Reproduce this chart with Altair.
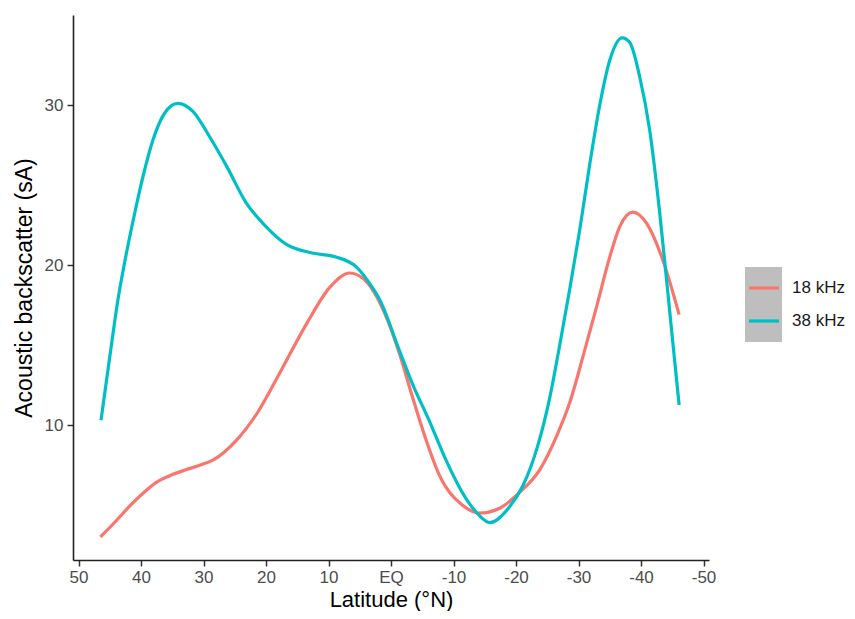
import altair as alt
import pandas as pd

# 18 kHz series (latitude, backscatter)
lat_18 = [46.5, 44.0, 41.9, 39.5, 37.6, 35.0, 32.8, 30.5, 28.5, 24.6, 21.4,
          17.8, 13.4, 9.8, 6.6, 3.8, 0.6, -1.4, -3.4, -5.5, -7.7, -11.4, -14.2, -17.4,
          -20.6, -23.8, -26.6, -28.6, -30.8, -32.9, -35.0, -36.6, -38.7, -40.9,
          -43.5, -46.1]
val_18 = [3.0, 4.0, 4.9, 5.8, 6.4, 6.9, 7.2, 7.5, 7.8, 9.1, 10.75,
          13.25, 16.4, 18.6, 19.5, 18.9, 16.6, 14.4, 11.8, 9.2, 6.9, 5.0, 4.5, 4.8,
          5.8, 7.2, 9.4, 11.4, 14.4, 17.4, 20.5, 22.4, 23.3, 22.6,
          20.3, 16.9]

# 38 kHz series
lat_38 = [46.4, 45.0, 43.7, 42.2, 41.0, 39.7, 38.1, 36.2, 34.1, 31.7, 29.0, 26.2,
          23.2, 20.0, 16.8, 12.6, 8.8, 5.6, 3.0, 1.9, -1.3, -3.4, -6.2, -8.8,
          -12.0, -14.0, -15.8, -19.0, -21.1, -23.4, -25.4, -27.0, -28.6, -30.2,
          -31.8, -33.4, -35.0, -37.0, -38.2, -39.8, -41.4, -43.0, -44.9, -46.1]
val_38 = [10.3, 14.25, 17.8, 21.0, 23.25, 25.5, 27.8, 29.5, 30.1, 29.6, 28.0, 26.1,
          23.9, 22.4, 21.3, 20.75, 20.5, 19.9, 18.6, 17.9, 14.7, 12.6, 10.2, 7.8,
          5.4, 4.4, 3.9, 4.9, 6.2, 8.6, 11.7, 15.0, 18.5, 22.2,
          26.3, 30.0, 32.8, 34.2, 33.9, 31.75, 28.4, 23.25, 15.9, 11.25]

series = ["18 kHz", "38 kHz"]
colors = ["#F8766D", "#00BFC4"]
x_ticks = [50, 40, 30, 20, 10, 0, -10, -20, -30, -40, -50]
y_ticks = [10, 20, 30]

df = pd.concat([
    pd.DataFrame({"lat": lat_18, "val": val_18, "freq": series[0], "ord": 0}),
    pd.DataFrame({"lat": lat_38, "val": val_38, "freq": series[1], "ord": 1}),
], ignore_index=True)

FONT = "Liberation Sans"

key_bg = alt.Chart(pd.DataFrame({"a": [0]})).mark_rect(color="#bebebe").encode(
    x=alt.value(672), x2=alt.value(709), y=alt.value(252), y2=alt.value(327)
)

lines = alt.Chart(df).mark_line(interpolate="monotone", strokeWidth=3.2).encode(
    x=alt.X("lat:Q",
            scale=alt.Scale(domain=[-50.88, 50.88], reverse=True, nice=False, zero=False),
            axis=alt.Axis(values=x_ticks, title="Latitude (°N)",
                          labelExpr="datum.value == 0 ? 'EQ' : datum.value",
                          grid=False)),
    y=alt.Y("val:Q",
            scale=alt.Scale(domain=[1.5625, 35.625], nice=False, zero=False),
            axis=alt.Axis(values=y_ticks, title="Acoustic backscatter (sA)", grid=False)),
    color=alt.Color("freq:N",
                    scale=alt.Scale(domain=series, range=colors),
                    legend=alt.Legend(title=None, orient="none", legendX=674, legendY=256,
                                      symbolType="stroke", symbolSize=900,
                                      symbolStrokeWidth=3.2, rowPadding=8,
                                      labelOffset=11, padding=0,
                                      labelFontSize=17, labelFont=FONT,
                                      labelColor="#1a1a1a")),
    detail="freq:N",
    order="ord:Q",
)

chart = alt.layer(key_bg, lines).properties(
    width=636, height=545,
    autosize=alt.AutoSizeParams(type="none"),
    padding={"left": 65, "top": 7, "right": 138, "bottom": 51},
).configure_view(stroke=None).configure_axis(
    domainColor="#222", domainWidth=1.6,
    tickColor="#333", tickWidth=1.5, tickSize=6,
    labelColor="#4d4d4d", labelFontSize=17, labelFont=FONT,
    titleColor="#000", titleFontSize=23, titleFont=FONT, titleFontWeight="normal",
).configure_axisX(labelPadding=3, titlePadding=4, titleFontSize=22).configure_axisY(
    labelPadding=4, titlePadding=8
)

chart.save("out.html", embed_options={"renderer": "svg", "actions": False})
